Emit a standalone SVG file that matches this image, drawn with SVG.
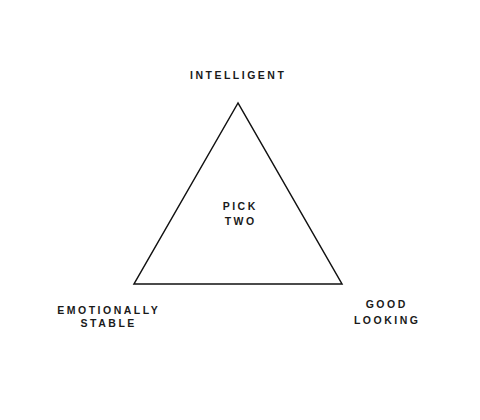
<svg xmlns="http://www.w3.org/2000/svg" width="480" height="420" viewBox="0 0 480 420">
<style>
.t{font-family:"Liberation Sans",Arial,sans-serif;font-size:10.5px;font-weight:bold;letter-spacing:2.5px;fill:#1a1a1a;text-anchor:middle}
</style>
<rect width="480" height="420" fill="#fff"/>
<g id="connectors">
<polygon points="238,103 134,284 342,284" fill="none" stroke="#111" stroke-width="1.5" stroke-linejoin="miter"/>
</g>
<g id="intelligent"><text class="t" x="238.2" y="78.8">INTELLIGENT</text></g>
<g id="center"><text class="t" x="240.2" y="210.4">PICK</text><text class="t" x="240.7" y="224.8">TWO</text></g>
<g id="emotionally-stable"><text class="t" x="108.7" y="314">EMOTIONALLY</text><text class="t" x="108.7" y="327">STABLE</text></g>
<g id="good-looking"><text class="t" x="386.7" y="308">GOOD</text><text class="t" x="387.2" y="323.6">LOOKING</text></g>
</svg>
